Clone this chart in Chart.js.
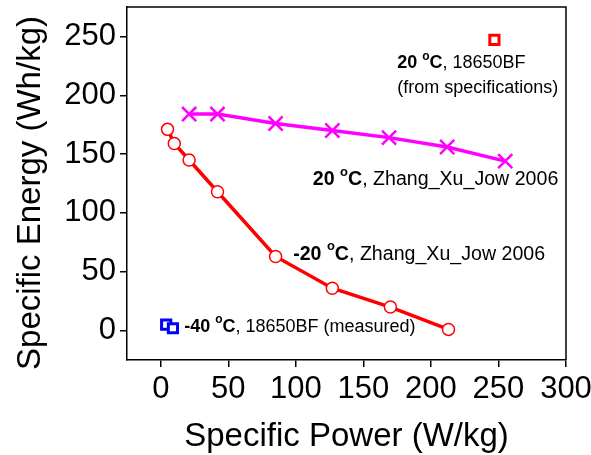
<!DOCTYPE html>
<html>
<head>
<meta charset="utf-8">
<script src="https://cdn.jsdelivr.net/npm/chart.js@4.4.0/dist/chart.umd.min.js"></script>
<style>
  body { margin: 0; background: #fff; }
</style>
</head>
<body>
<canvas id="myChart" width="591" height="455"></canvas>
<script>
// -20 C, Zhang_Xu_Jow 2006
var minus20Power = [5, 10, 21, 42, 85, 127, 170, 213];
var minus20Energy = [171, 159, 145, 118, 63, 36, 20, 1];
// 20 C, Zhang_Xu_Jow 2006
var plus20Power = [21, 42, 85, 127, 169, 212, 255];
var plus20Energy = [184, 184, 176, 170, 164, 156, 144];
// -40 C, 18650BF measured
var minus40Power = [4, 9];
var minus40Energy = [5, 2];
// 20 C, 18650BF spec
var specPower = [247];
var specEnergy = [247];

var xTicks = [0, 50, 100, 150, 200, 250, 300];
var yTicks = [0, 50, 100, 150, 200, 250];
var yTitle = "Specific Energy (Wh/kg)";

// label text: temperature part (bold) and the rest
var noteTemps = ["20", "20", "-20", "-40"];
var noteRests = [", 18650BF", ", Zhang_Xu_Jow 2006", ", Zhang_Xu_Jow 2006", ", 18650BF (measured)"];
var noteExtra = ["(from specifications)", "", "", ""];
var noteAt = [[175, 227], [112.6, 128], [98, 65], [17.3, 3.4]];
var noteSize = [18, 19.6, 19.6, 18];

var FONT = "'Liberation Sans', Arial, Helvetica, sans-serif";

toPoints = (xs, ys) => xs.map((x, i) => ({ x: x, y: ys[i] }));

var frameAndNotes = {
  id: "frameAndNotes",
  beforeDraw: chart => {
    var ctx = chart.ctx;
    ctx.save();
    ctx.fillStyle = "#fff";
    ctx.fillRect(0, 0, chart.width, chart.height);
    ctx.restore();
  },
  afterDraw: chart => {
    var ctx = chart.ctx;
    var a = chart.chartArea;
    ctx.save();
    ctx.strokeStyle = "#000";
    ctx.lineWidth = 1.5;
    ctx.beginPath();
    ctx.moveTo(a.left, a.top);
    ctx.lineTo(a.right, a.top);
    ctx.lineTo(a.right, a.bottom);
    ctx.stroke();

    // y axis title
    ctx.save();
    ctx.translate(31, 193);
    ctx.rotate(-Math.PI / 2);
    ctx.fillStyle = "#000";
    ctx.textAlign = "center";
    ctx.textBaseline = "middle";
    ctx.font = "33px " + FONT;
    ctx.fillText(yTitle, 0, 0);
    ctx.restore();

    var xs = chart.scales.x;
    var ys = chart.scales.y;
    ctx.fillStyle = "#000";
    ctx.textBaseline = "middle";
    ctx.textAlign = "left";
    for (let i = 0; i < noteTemps.length; i++) {
      var fs = noteSize[i];
      var px = xs.getPixelForValue(noteAt[i][0]);
      var py = ys.getPixelForValue(noteAt[i][1]);
      var x = px;
      ctx.font = "bold " + fs + "px " + FONT;
      ctx.fillText(noteTemps[i] + " ", x, py);
      x += ctx.measureText(noteTemps[i] + " ").width;
      ctx.font = "bold " + Math.round(fs * 0.68) + "px " + FONT;
      ctx.fillText("o", x, py - fs * 0.4);
      x += ctx.measureText("o").width;
      ctx.font = "bold " + fs + "px " + FONT;
      ctx.fillText("C", x, py);
      x += ctx.measureText("C").width;
      ctx.font = fs + "px " + FONT;
      ctx.fillText(noteRests[i], x, py);
      if (noteExtra[i]) {
        ctx.fillText(noteExtra[i], px, py + 25);
      }
    }
    ctx.restore();
  }
};

createChart = () => {
  var ctx = document.getElementById("myChart");
  new Chart(ctx, {
    type: "scatter",
    data: {
      datasets: [
        {
          label: "-20 C, Zhang_Xu_Jow 2006",
          data: toPoints(minus20Power, minus20Energy),
          showLine: true,
          borderColor: "#ff0000",
          borderWidth: 3.5,
          pointStyle: "circle",
          pointRadius: 6,
          pointBorderWidth: 1.5,
          pointBorderColor: "#ff0000",
          pointBackgroundColor: "#fff"
        },
        {
          label: "20 C, Zhang_Xu_Jow 2006",
          data: toPoints(plus20Power, plus20Energy),
          showLine: true,
          borderColor: "#ff00ff",
          borderWidth: 3.5,
          pointStyle: "crossRot",
          pointRadius: 10,
          pointBorderWidth: 2.5,
          pointBorderColor: "#ff00ff"
        },
        {
          label: "-40 C, 18650BF (measured)",
          data: toPoints(minus40Power, minus40Energy),
          showLine: false,
          pointStyle: "rect",
          pointRadius: 6.5,
          pointBorderWidth: 3,
          pointBorderColor: "#0000ff",
          pointBackgroundColor: "#fff"
        },
        {
          label: "20 C, 18650BF (from specifications)",
          data: toPoints(specPower, specEnergy),
          showLine: false,
          pointStyle: "rect",
          pointRadius: 6.5,
          pointBorderWidth: 3,
          pointBorderColor: "#ff0000",
          pointBackgroundColor: "#fff"
        }
      ]
    },
    options: {
      responsive: false,
      animation: false,
      events: [],
      layout: { autoPadding: false, padding: { top: 7, right: 25, left: 0, bottom: 0 } },
      plugins: { legend: { display: false }, tooltip: { enabled: false } },
      scales: {
        x: {
          type: "linear",
          min: -25,
          max: 300,
          afterBuildTicks: s => { s.ticks = xTicks.map(v => ({ value: v })); },
          afterFit: s => {
            s.height = 95;
            s.paddingLeft = 0;
            s.paddingRight = 0;
          },
          border: { display: true, color: "#000", width: 1.5 },
          grid: { display: true, drawOnChartArea: false, drawTicks: true, tickLength: 7, color: "#000", lineWidth: 1.5 },
          ticks: { color: "#000", padding: 4, maxRotation: 0, autoSkip: false, font: { family: FONT, size: 31 } },
          title: {
            display: true,
            text: "Specific Power (W/kg)",
            color: "#000",
            font: { family: FONT, size: 33, lineHeight: 1 },
            padding: { top: 0, bottom: 2 }
          }
        },
        y: {
          type: "linear",
          min: -25,
          max: 275,
          afterBuildTicks: s => { s.ticks = yTicks.map(v => ({ value: v })); },
          afterFit: s => {
            s.width = 127;
            s.paddingTop = 0;
            s.paddingBottom = 0;
          },
          border: { display: true, color: "#000", width: 1.5 },
          grid: { display: true, drawOnChartArea: false, drawTicks: true, tickLength: 7, color: "#000", lineWidth: 1.5 },
          ticks: { color: "#000", padding: 4, autoSkip: false, font: { family: FONT, size: 31 } },
          title: { display: false }
        }
      }
    },
    plugins: [frameAndNotes]
  });
};

createChart();
</script>
</body>
</html>
